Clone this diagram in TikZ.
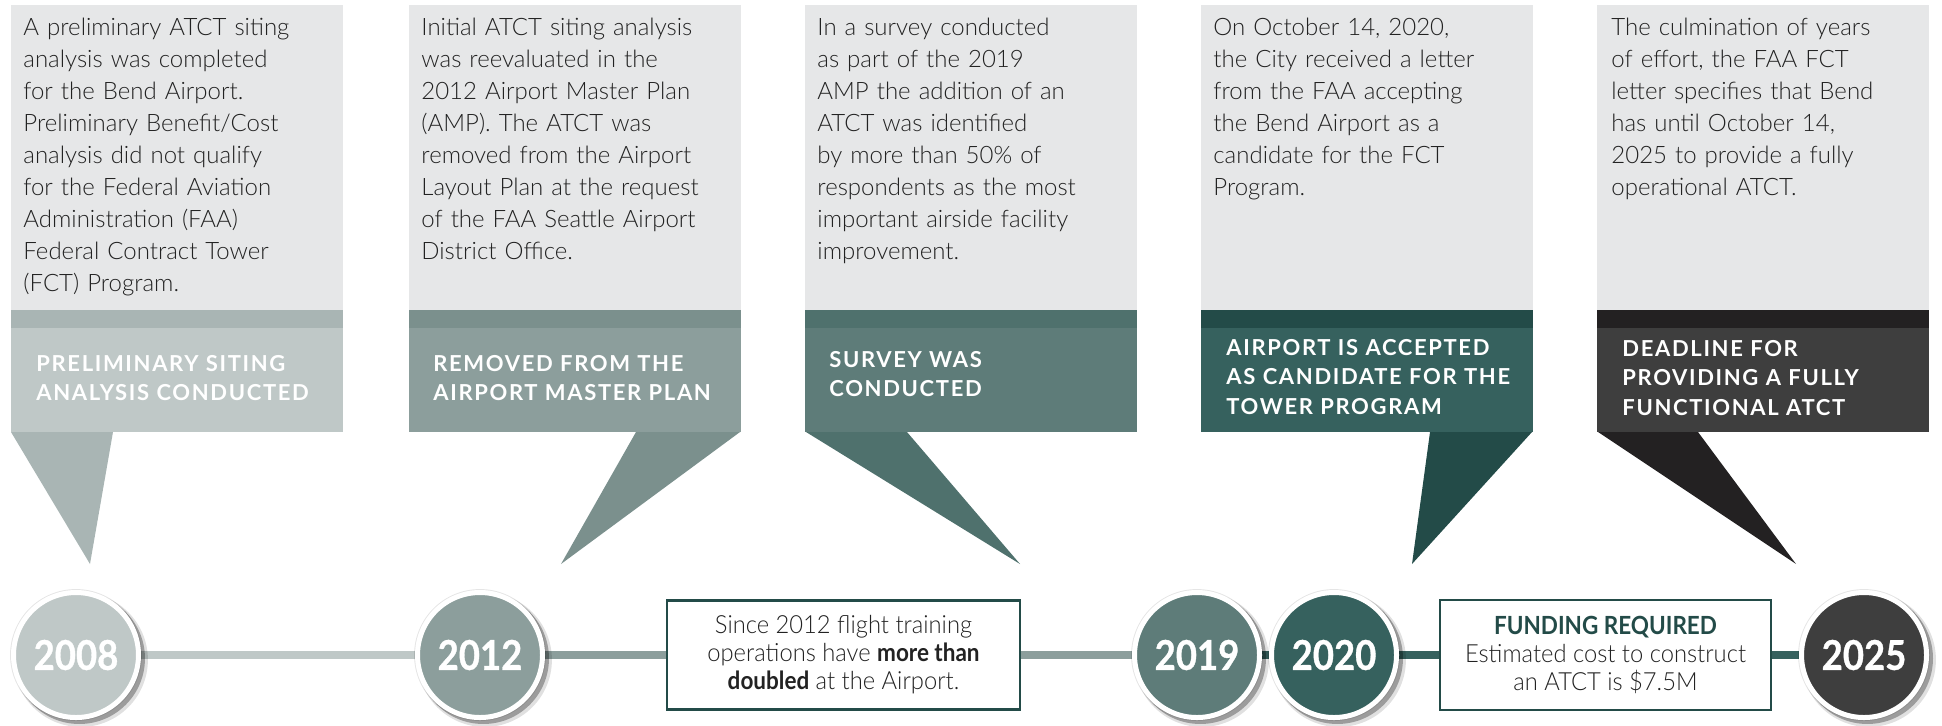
\documentclass[tikz,border=0pt]{standalone}
\usepackage{fontspec}
\setmainfont{Lato Light}[BoldFont={Lato Bold}]
\newfontfamily\capsfont{Lato Bold}[LetterSpace=7.5]
\newfontfamily\yearfont{Lato Bold}[FakeBold=0.8,FakeStretch=0.89]
\newfontfamily\narrowfont{Lato Light}[FakeStretch=0.95,BoldFont={Lato Bold},BoldFeatures={FakeStretch=0.9}]
\usetikzlibrary{shadows,backgrounds}
\definecolor{panelgray}{HTML}{E6E7E8}
\definecolor{labA}{HTML}{BFC8C7}
\definecolor{bandA}{HTML}{A9B5B4}
\definecolor{labB}{HTML}{8C9E9C}
\definecolor{bandB}{HTML}{7B908D}
\definecolor{labC}{HTML}{5E7C79}
\definecolor{bandC}{HTML}{4F716D}
\definecolor{labD}{HTML}{36615E}
\definecolor{bandD}{HTML}{234B48}
\definecolor{labE}{HTML}{3E3E3E}
\definecolor{bandE}{HTML}{232122}
\definecolor{bodygray}{HTML}{222222}
\definecolor{boxgreen}{HTML}{234B48}
\begin{document}
\begin{tikzpicture}[x=0.5pt,y=-0.5pt]
\tikzset{yearnode/.style={circle, draw=white, line width=2.5pt, minimum size=62.5pt, inner sep=0pt, text=white, font=\yearfont\fontsize{20.5}{20.5}\selectfont,
    general shadow={shadow scale=1.075, shadow xshift=2.2pt, shadow yshift=-2.2pt, fill=black, opacity=0.12},
    general shadow={shadow scale=1.05, shadow xshift=1.6pt, shadow yshift=-1.6pt, fill=black, opacity=0.3},
    general shadow={shadow scale=1.055, fill=black, opacity=0.1}},
  bodytext/.style={anchor=base west, inner sep=0pt, text width=165pt, align=left, text=bodygray, font=\fontsize{12}{16}\selectfont},
  capstext/.style={anchor=base west, inner sep=0pt, text width=165pt, align=left, text=white, font=\capsfont\fontsize{11}{14.75}\selectfont},
  notebox/.style={draw=boxgreen, line width=1.25pt, fill=white, inner sep=0pt, align=center, text=bodygray, font=\narrowfont\fontsize{12.5}{14}\selectfont},
  timeline/.style={line width=4pt}}
\useasboundingbox (0,0) rectangle (1942,725);
\fill[panelgray] (11,5) rectangle (343,310);
\fill[bandA] (11,310) rectangle (343,328);
\fill[labA] (11,328) rectangle (343,432);
\fill[bandA] (11,432) -- (113,432) -- (90,564) -- cycle;
\fill[panelgray] (409,5) rectangle (741,310);
\fill[bandB] (409,310) rectangle (741,328);
\fill[labB] (409,328) rectangle (741,432);
\fill[bandB] (636,432) -- (740,432) -- (561,564) -- cycle;
\fill[panelgray] (805,5) rectangle (1137,310);
\fill[bandC] (805,310) rectangle (1137,328);
\fill[labC] (805,328) rectangle (1137,432);
\fill[bandC] (806,432) -- (907,432) -- (1020,564) -- cycle;
\fill[panelgray] (1201,5) rectangle (1533,310);
\fill[bandD] (1201,310) rectangle (1533,328);
\fill[labD] (1201,328) rectangle (1533,432);
\fill[bandD] (1430,432) -- (1532,432) -- (1412,564) -- cycle;
\fill[panelgray] (1597,5) rectangle (1929,310);
\fill[bandE] (1597,310) rectangle (1929,328);
\fill[labE] (1597,328) rectangle (1929,432);
\fill[bandE] (1598,432) -- (1698,432) -- (1796,564) -- cycle;
\node[bodytext] (T1) at (23,35) {A preliminary ATCT siting\\analysis was completed\\for the Bend Airport.\\Preliminary Benefit/Cost\\analysis did not qualify\\for the Federal Aviation\\Administration (FAA)\\Federal Contract Tower\\(FCT) Program.};
\node[bodytext] (T2) at (421,35) {Initial ATCT siting analysis\\was reevaluated in the\\2012 Airport Master Plan\\(AMP). The ATCT was\\removed from the Airport\\Layout Plan at the request\\of the FAA Seattle Airport\\District Office.};
\node[bodytext] (T3) at (817,35) {In a survey conducted\\as part of the 2019\\AMP the addition of an\\ATCT was identified\\by more than 50\% of\\respondents as the most\\important airside facility\\improvement.};
\node[bodytext] (T4) at (1213,35) {On October 14, 2020,\\the City received a letter\\from the FAA accepting\\the Bend Airport as a\\candidate for the FCT\\Program.};
\node[bodytext] (T5) at (1611,35) {The culmination of years\\of effort, the FAA FCT\\letter specifies that Bend\\has until October 14,\\2025 to provide a fully\\operational ATCT.};
\node[capstext] (L1) at (36,371) {PRELIMINARY SITING\\ANALYSIS CONDUCTED};
\node[capstext] (L2) at (433,371) {REMOVED FROM THE\\AIRPORT MASTER PLAN};
\node[capstext] (L3) at (829,367) {SURVEY WAS\\CONDUCTED};
\node[capstext] (L4) at (1226,355) {AIRPORT IS ACCEPTED\\AS CANDIDATE FOR THE\\TOWER PROGRAM};
\node[capstext] (L5) at (1622,356) {DEADLINE FOR\\PROVIDING A FULLY\\FUNCTIONAL ATCT};
\node[yearnode, fill=labA] (Y1) at (76,655) {2008};
\node[yearnode, fill=labB] (Y2) at (480,655) {2012};
\node[yearnode, fill=labC] (Y3) at (1197,655) {2019};
\node[yearnode, fill=labD] (Y4) at (1334,655) {2020};
\node[yearnode, fill=labE] (Y5) at (1864,655) {2025};
\node[notebox, minimum width=176.5pt, minimum height=54.5pt] (B1) at (843.5,655) {Since 2012 flight training\\operations have \textbf{more than}\\\textbf{doubled} at the Airport.};
\node[notebox, minimum width=165.5pt, minimum height=55pt] (B2) at (1605.5,655) {\textbf{\textcolor{boxgreen}{FUNDING REQUIRED}}\\Estimated cost to construct\\an ATCT is \$7.5M};
\begin{scope}[on background layer]
\draw[timeline, labA] (Y1) -- (Y2);
\draw[timeline, labB] (Y2) -- (B1);
\draw[timeline, labB] (B1) -- (Y3);
\draw[timeline, labD] (Y3) -- (Y4);
\draw[timeline, labD] (Y4) -- (B2);
\draw[timeline, labD] (B2) -- (Y5);
\end{scope}
\end{tikzpicture}
\end{document}
